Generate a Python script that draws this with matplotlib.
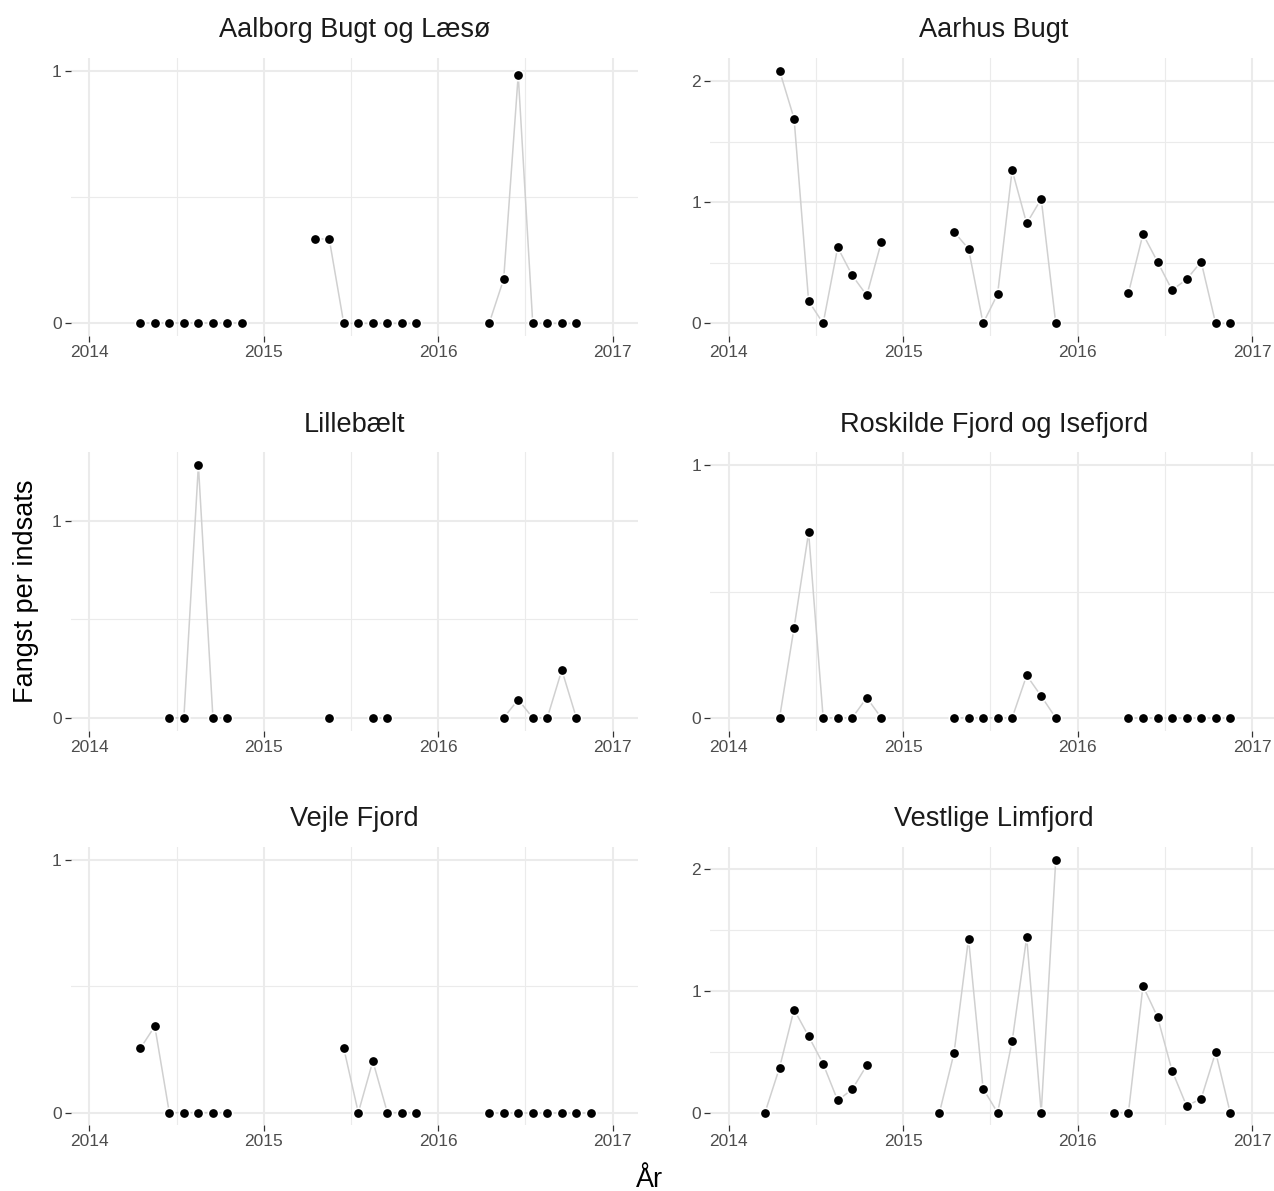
import matplotlib
matplotlib.use("Agg")
import matplotlib.pyplot as plt
from matplotlib.ticker import MultipleLocator, FixedLocator

plt.rcParams['font.family'] = ['Liberation Sans', 'DejaVu Sans']

# omraader i facet-raekkefoelge
areas = ["Aalborg Bugt og Læsø", "Aarhus Bugt", "Lillebælt",
         "Roskilde Fjord og Isefjord", "Vejle Fjord", "Vestlige Limfjord"]

aalborg_months = ["2014-04", "2014-05", "2014-06", "2014-07", "2014-08", "2014-09", "2014-10", "2014-11",
                  "2015-04", "2015-05", "2015-06", "2015-07", "2015-08", "2015-09", "2015-10", "2015-11",
                  "2016-04", "2016-05", "2016-06", "2016-07", "2016-08", "2016-09", "2016-10"]
aalborg_vals = [0, 0, 0, 0, 0, 0, 0, 0,
                0.334, 0.334, 0, 0, 0, 0, 0, 0,
                0, 0.175, 0.983, 0, 0, 0, 0]

aarhus_months = ["2014-04", "2014-05", "2014-06", "2014-07", "2014-08", "2014-09", "2014-10", "2014-11",
                 "2015-04", "2015-05", "2015-06", "2015-07", "2015-08", "2015-09", "2015-10", "2015-11",
                 "2016-04", "2016-05", "2016-06", "2016-07", "2016-08", "2016-09", "2016-10", "2016-11"]
aarhus_vals = [2.087, 1.691, 0.184, 0, 0.627, 0.396, 0.231, 0.671,
               0.756, 0.616, 0, 0.242, 1.265, 0.825, 1.028, 0,
               0.25, 0.737, 0.509, 0.275, 0.363, 0.509, 0, 0]

lille_months = ["2014-06", "2014-07", "2014-08", "2014-09", "2014-10",
                "2015-05", "2015-08", "2015-09",
                "2016-05", "2016-06", "2016-07", "2016-08", "2016-09", "2016-10"]
lille_vals = [0, 0, 1.284, 0, 0,
              0, 0, 0,
              0, 0.093, 0, 0, 0.243, 0]

roskilde_months = ["2014-04", "2014-05", "2014-06", "2014-07", "2014-08", "2014-09", "2014-10", "2014-11",
                   "2015-04", "2015-05", "2015-06", "2015-07", "2015-08", "2015-09", "2015-10", "2015-11",
                   "2016-04", "2016-05", "2016-06", "2016-07", "2016-08", "2016-09", "2016-10", "2016-11"]
roskilde_vals = [0, 0.357, 0.734, 0, 0, 0, 0.080, 0,
                 0, 0, 0, 0, 0, 0.168, 0.086, 0,
                 0, 0, 0, 0, 0, 0, 0, 0]

vejle_months = ["2014-04", "2014-05", "2014-06", "2014-07", "2014-08", "2014-09", "2014-10",
                "2015-06", "2015-07", "2015-08", "2015-09", "2015-10", "2015-11",
                "2016-04", "2016-05", "2016-06", "2016-07", "2016-08", "2016-09", "2016-10", "2016-11"]
vejle_vals = [0.254, 0.342, 0, 0, 0, 0, 0,
              0.255, 0, 0.204, 0, 0, 0,
              0, 0, 0, 0, 0, 0, 0, 0]

vestlige_months = ["2014-03", "2014-04", "2014-05", "2014-06", "2014-07", "2014-08", "2014-09", "2014-10",
                   "2015-03", "2015-04", "2015-05", "2015-06", "2015-07", "2015-08", "2015-09", "2015-10", "2015-11",
                   "2016-03", "2016-04", "2016-05", "2016-06", "2016-07", "2016-08", "2016-09", "2016-10", "2016-11"]
vestlige_vals = [0, 0.37, 0.846, 0.627, 0.40, 0.10, 0.192, 0.389,
                 0, 0.488, 1.429, 0.197, 0, 0.586, 1.44, 0, 2.075,
                 0, 0, 1.04, 0.786, 0.345, 0.055, 0.115, 0.496, 0]

all_months = [aalborg_months, aarhus_months, lille_months, roskilde_months, vejle_months, vestlige_months]
all_vals = [aalborg_vals, aarhus_vals, lille_vals, roskilde_vals, vejle_vals, vestlige_vals]

year_ticks = [2014, 2015, 2016, 2017]


def to_year(s):
    # midt i maaneden som decimalaar
    y, m = s.split("-")
    return int(y) + (int(m) - 0.5) / 12


def month_index(s):
    y, m = s.split("-")
    return int(y) * 12 + int(m)


W, H = 1274, 1191
fig = plt.figure(figsize=(W / 100, H / 100), dpi=100, facecolor='white')

col_left = [70.7, 710]
row_bottom = [336, 730.5, 1125.3]
pw, ph = 567.3, 278

for i, name in enumerate(areas):
    r, c = i // 2, i % 2
    ax = fig.add_axes([col_left[c] / W, 1 - row_bottom[r] / H, pw / W, ph / H])
    months = all_months[i]
    vals = all_vals[i]
    xs = [to_year(m) for m in months]
    idx = [month_index(m) for m in months]

    # linjen brydes hvor der mangler maaneder
    seg_x, seg_y = [xs[0]], [vals[0]]
    for k in range(1, len(xs)):
        if idx[k] - idx[k - 1] != 1:
            ax.plot(seg_x, seg_y, color='#d0d0d0', lw=1.1, zorder=2)
            seg_x, seg_y = [], []
        seg_x.append(xs[k])
        seg_y.append(vals[k])
    ax.plot(seg_x, seg_y, color='#d0d0d0', lw=1.1, zorder=2)
    ax.plot(xs, vals, 'o', ms=7.5, mfc='black', mec='white', mew=1.2, zorder=3, clip_on=False)

    hi = max(1, max(vals))
    ax.set_ylim(-0.05 * hi, hi * 1.05)
    ax.set_xlim(2013.893, 2017.145)

    ax.xaxis.set_major_locator(FixedLocator(year_ticks))
    ax.xaxis.set_minor_locator(FixedLocator([2014.5, 2015.5, 2016.5]))
    ax.set_xticklabels([str(t) for t in year_ticks])
    ax.yaxis.set_major_locator(MultipleLocator(1))
    ax.yaxis.set_minor_locator(MultipleLocator(0.5))
    ax.grid(which='major', color='#ebebeb', lw=1.5)
    ax.grid(which='minor', color='#ebebeb', lw=0.8)
    ax.set_axisbelow(True)
    for s in ax.spines.values():
        s.set_visible(False)
    ax.tick_params(which='major', length=4, width=0.9, color='#333333',
                   labelsize=12.5, labelcolor='#4d4d4d', pad=2.5)
    ax.tick_params(which='minor', length=0)
    ax.set_title(name, fontsize=19.5, color='#1a1a1a', pad=15)

fig.text(26 / W, 1 - 591.5 / H, 'Fangst per indsats', rotation=90,
         ha='center', va='center', fontsize=19.5)
fig.text(650 / W, 4 / H, 'År', ha='center', va='baseline', fontsize=19.5)

fig.savefig('out.png', dpi=100, facecolor='white')
